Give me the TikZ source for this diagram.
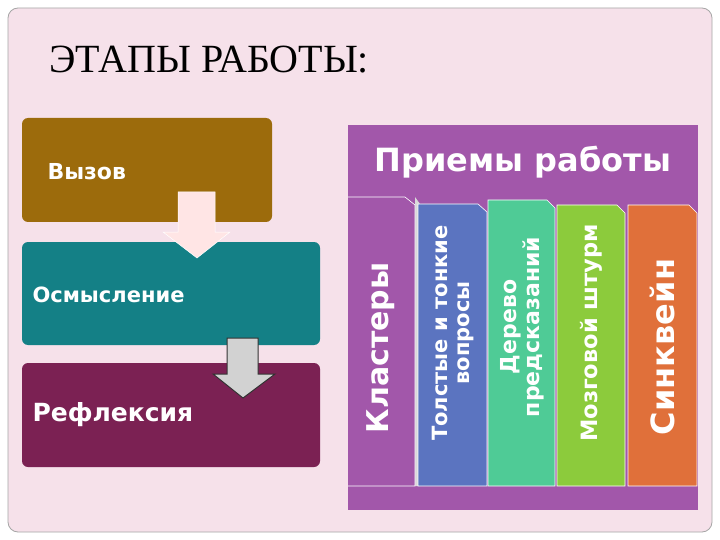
\documentclass[tikz,border=0pt]{standalone}
\usepackage{fontspec}
\setmainfont{DejaVu Sans}
\newfontfamily\titlefont{Liberation Serif}
\begin{document}
\begin{tikzpicture}[x=1pt,y=-1pt]
\definecolor{bg}{HTML}{F6E1EA}
\definecolor{brn}{HTML}{9C6B0C}
\definecolor{tea}{HTML}{148086}
\definecolor{plm}{HTML}{7B2153}
\definecolor{vio}{HTML}{A257AA}
\definecolor{blu}{HTML}{5B74C0}
\definecolor{grn}{HTML}{4FCB96}
\definecolor{lgr}{HTML}{8CCB3C}
\definecolor{org}{HTML}{E0703A}
\tikzset{stage/.style={rounded corners=6pt,draw=none},
 col/.style={draw=white,line width=0.6pt},
 vtext/.style={rotate=90,text=white,font=\bfseries,align=center,inner sep=0pt}}
\useasboundingbox (0,0) rectangle (720,540);
\fill[white] (0,0) rectangle (720,540);
\draw[gray!70,fill=bg,rounded corners=10pt,line width=0.8pt] (8,8) rectangle (712,532);
\node[font=\titlefont\fontsize{40}{40}\selectfont,anchor=west] (title) at (46,60) {ЭТАПЫ РАБОТЫ:};
% stages
\fill[stage,brn] (22,118) rectangle (272,222);
\node[anchor=west,text=white,font=\bfseries\fontsize{22}{22}\selectfont] (vyz) at (44,172) {Вызов};
\fill[stage,tea] (22,242) rectangle (320,345);
\node[anchor=west,text=white,font=\bfseries\fontsize{21}{21}\selectfont] (osm) at (29,295) {Осмысление};
\fill[stage,plm] (22,363) rectangle (320,467);
\node[anchor=west,text=white,font=\bfseries\fontsize{25}{25}\selectfont] (ref) at (29,415) {Рефлексия};
% arrows
\fill[pink!40!white,draw=white,line width=0.5pt] (178,192) -- (215,192) -- (215,232) -- (230,232) -- (197,258) -- (163,232) -- (178,232) -- cycle;
\draw[fill=gray!35,draw=black!80,line width=1pt] (227,338) -- (258,338) -- (258,374) -- (275,374) -- (243,398) -- (213,374) -- (227,374) -- cycle;
% right panel
\fill[vio] (348,125) rectangle (698,510);
\node[text=white,font=\bfseries\fontsize{32}{32}\selectfont] (hdr) at (523,162) {Приемы работы};
\fill[gray!30] (415,197) -- (420,204) -- (420,486) -- (415,486) -- cycle;
\draw[col,fill=vio] (348,197) -- (405,197) -- (415,205) -- (415,486) -- (348,486);
\draw[col,fill=blu] (418,204) -- (478,204) -- (487,212) -- (487,486) -- (418,486) -- cycle;
\draw[col,fill=grn] (488,200) -- (547,200) -- (555,208) -- (555,486) -- (488,486) -- cycle;
\draw[col,fill=lgr] (557,205) -- (617,205) -- (625,213) -- (625,486) -- (557,486) -- cycle;
\draw[col,fill=org] (628,205) -- (689,205) -- (697,213) -- (697,486) -- (628,486) -- cycle;
\node[vtext,font=\bfseries\fontsize{30}{30}\selectfont] (c1) at (381,348) {Кластеры};
\node[vtext,font=\bfseries\fontsize{21}{22}\selectfont] (c2) at (453,333) {Толстые и тонкие\\вопросы};
\node[vtext,font=\bfseries\fontsize{22}{23}\selectfont] (c3) at (522,327) {Дерево\\предсказаний};
\node[vtext,font=\bfseries\fontsize{22.5}{23}\selectfont] (c4) at (591,333) {Мозговой штурм};
\node[vtext,font=\bfseries\fontsize{32}{32}\selectfont] (c5) at (662,347) {Синквейн};
\end{tikzpicture}
\end{document}
